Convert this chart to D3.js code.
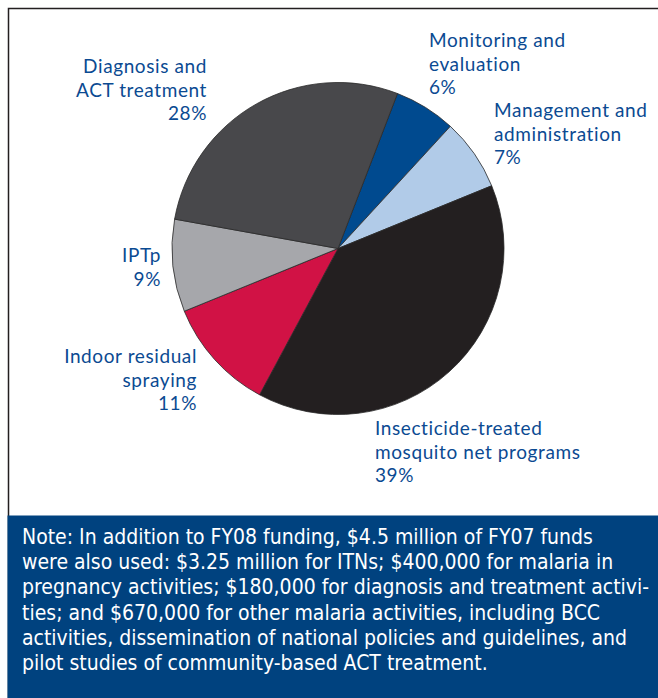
<!DOCTYPE html>
<html>
<head>
<meta charset="utf-8">
<script src="https://cdn.jsdelivr.net/npm/d3@7"></script>
<style>
  html, body { margin: 0; padding: 0; background: #fff; }
  #viz { width: 658px; height: 698px; }
</style>
</head>
<body>
<div id="viz"></div>
<script>
// Chart data (clockwise from the top)
const categories = [
  'Monitoring and evaluation',
  'Management and administration',
  'Insecticide-treated mosquito net programs',
  'Indoor residual spraying',
  'IPTp',
  'Diagnosis and ACT treatment'
];
const shares = [6, 7, 39, 11, 9, 28];
const sliceColors = ['#004a8f', '#b1cbe8', '#231f20', '#d11245', '#a6a7ab', '#48484b'];

const noteLines = [
  'Note: In addition to FY08 funding, $4.5 million of FY07 funds',
  'were also used: $3.25 million for ITNs; $400,000 for malaria in',
  'pregnancy activities; $180,000 for diagnosis and treatment activi-',
  'ties; and $670,000 for other malaria activities, including BCC',
  'activities, dissemination of national policies and guidelines, and',
  'pilot studies of community-based ACT treatment.'
];

(function () {
  const W = 658, H = 698;
  const cx = 338, cy = 248.5, R = 166;
  const labelBlue = '#0b4a92';

  const svg = d3.select('#viz')
    .append('svg')
    .attr('width', W)
    .attr('height', H);

  // frame
  svg.append('path')
    .attr('d', `M8.5,${H} V8.5 H${W}`)
    .attr('fill', 'none')
    .attr('stroke', '#231f20')
    .attr('stroke-width', 1.5);

  // pie
  const start = 21 * Math.PI / 180;
  const pie = d3.pie().sort(null).value((d) => d.value)
    .startAngle(start).endAngle(start + 2 * Math.PI);
  const arc = d3.arc().innerRadius(0).outerRadius(R);

  const data = categories.map((c, i) => ({ name: c, value: shares[i], color: sliceColors[i] }));

  const g = svg.append('g').attr('transform', `translate(${cx},${cy})`);
  g.selectAll('path')
    .data(pie(data))
    .enter()
    .append('path')
    .attr('d', arc)
    .attr('fill', (d) => d.data.color)
    .attr('stroke', '#2a2a2a')
    .attr('stroke-width', 0.8);

  // slice labels: lines, x, first baseline, anchor
  const labelLayout = [
    { lines: ['Monitoring and', 'evaluation', shares[0] + '%'], x: 429, y: 47, anchor: 'start' },
    { lines: ['Management and', 'administration', shares[1] + '%'], x: 494, y: 117, anchor: 'start' },
    { lines: ['Insecticide-treated', 'mosquito net programs', shares[2] + '%'], x: 375, y: 435, anchor: 'start' },
    { lines: ['Indoor residual', 'spraying', shares[3] + '%'], x: 197, y: 363, anchor: 'end' },
    { lines: ['IPTp', shares[4] + '%'], x: 161, y: 262, anchor: 'end' },
    { lines: ['Diagnosis and', 'ACT treatment', shares[5] + '%'], x: 207, y: 73, anchor: 'end' }
  ];

  const lab = svg.append('g')
    .attr('font-family', 'Lato, "Open Sans", sans-serif')
    .attr('font-size', 19)
    .attr('letter-spacing', 0.6)
    .attr('fill', labelBlue);

  labelLayout.forEach((l) => {
    const t = lab.append('text')
      .attr('x', l.x)
      .attr('y', l.y)
      .attr('text-anchor', l.anchor);
    l.lines.forEach((s, i) => {
      t.append('tspan')
        .attr('x', l.x)
        .attr('dy', i === 0 ? 0 : 23.7)
        .text(s);
    });
  });

  // note box
  svg.append('rect')
    .attr('x', 7.5)
    .attr('y', 515.5)
    .attr('width', W - 7.5)
    .attr('height', H - 515.5)
    .attr('fill', '#00427f');

  const note = svg.append('text')
    .attr('font-family', '"Liberation Sans Narrow", "DejaVu Sans Condensed", sans-serif')
    .attr('font-size', 21)
    .attr('fill', '#fff');

  noteLines.forEach((s, i) => {
    note.append('tspan')
      .attr('x', 22)
      .attr('y', 544 + i * 25.2)
      .text(s);
  });
})();
</script>
</body>
</html>
